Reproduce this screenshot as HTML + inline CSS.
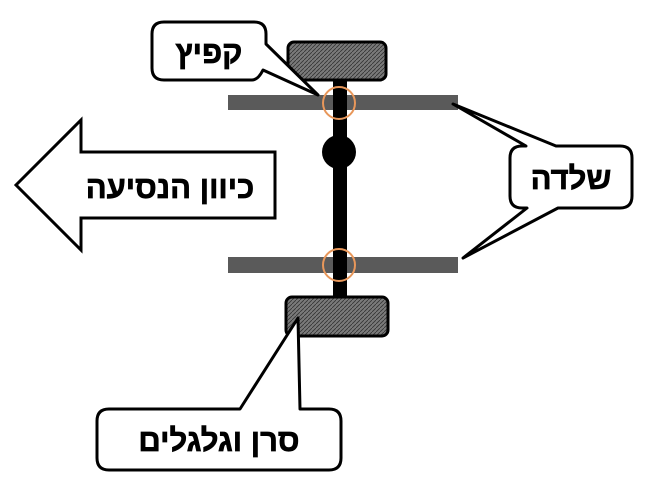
<!DOCTYPE html>
<html><head><meta charset="utf-8"><style>
html,body{margin:0;padding:0;background:#fff;}
svg{display:block}
text{font-family:"Liberation Sans","DejaVu Sans",sans-serif;font-weight:bold;fill:#000;stroke:#000;stroke-width:0.7}
</style></head><body>
<svg width="647" height="486" viewBox="0 0 647 486" xmlns="http://www.w3.org/2000/svg">
<defs>
<pattern id="h" width="4" height="4" patternUnits="userSpaceOnUse">
<rect width="4" height="4" fill="#7a7a7a"/>
<path d="M0,4 L4,0" stroke="#333" stroke-width="0.8"/>
</pattern>
</defs>
<polygon points="16,185 81,120 81,152 275,152 275,218 81,218 81,250" fill="#fff" stroke="#000" stroke-width="3" stroke-linejoin="miter"/>
<text x="170" y="198" font-size="31" text-anchor="middle" direction="rtl">כיוון הנסיעה</text>
<rect x="228" y="95" width="230" height="15" fill="#5a5a5a"/>
<rect x="228" y="257" width="230" height="16" fill="#5a5a5a"/>
<rect x="333" y="80" width="14" height="218" fill="#000"/>
<circle cx="339" cy="152" r="17" fill="#000"/>
<circle cx="339" cy="103" r="16" fill="none" stroke="#e8975a" stroke-width="2"/>
<circle cx="339" cy="265" r="16" fill="none" stroke="#e8975a" stroke-width="2"/>
<rect x="288" y="42" width="98" height="38" rx="6" fill="url(#h)" stroke="#000" stroke-width="3"/>
<rect x="286" y="297" width="102" height="39" rx="6" fill="url(#h)" stroke="#000" stroke-width="3"/>
<path d="M164,22 H254 Q266,22 266,34 V44 L318,95 L263,70 Q258,80 252,80 H164 Q152,80 152,68 V34 Q152,22 164,22 Z" fill="#fff" stroke="#000" stroke-width="3" stroke-linejoin="round"/>
<text x="209" y="63" font-size="31" text-anchor="middle" direction="rtl">קפיץ</text>
<path d="M522,146 H526 L453,104 L556,146 H620 Q632,146 632,158 V196 Q632,208 620,208 H558 L463,258 L527,208 H522 Q510,208 510,196 V158 Q510,146 522,146 Z" fill="#fff" stroke="#000" stroke-width="3" stroke-linejoin="round"/>
<text x="571" y="189" font-size="31" text-anchor="middle" direction="rtl">שלדה</text>
<path d="M109,409 H240 L298,318 L300,409 H329 Q341,409 341,421 V458 Q341,470 329,470 H109 Q97,470 97,458 V421 Q97,409 109,409 Z" fill="#fff" stroke="#000" stroke-width="3" stroke-linejoin="round"/>
<text x="219" y="451" font-size="31" text-anchor="middle" direction="rtl">סרן וגלגלים</text>
</svg>
</body></html>
